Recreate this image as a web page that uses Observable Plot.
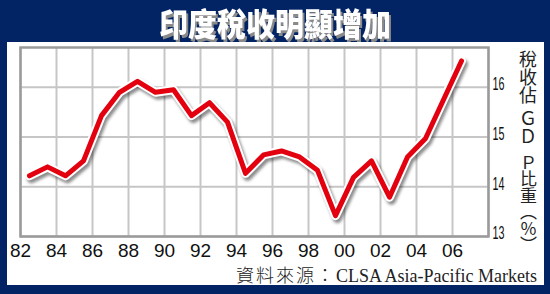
<!DOCTYPE html>
<html><head><meta charset="utf-8">
<script src="https://cdn.jsdelivr.net/npm/d3@7"></script>
<script src="https://cdn.jsdelivr.net/npm/@observablehq/plot@0.6"></script>
<style>
html,body{margin:0;padding:0;background:#fff;}
#wrap{position:relative;width:550px;height:294px;background:#032464;overflow:hidden;font-family:"Liberation Sans",Arial,sans-serif;}
#title{position:absolute;left:0;top:0;width:550px;height:42px;line-height:44px;text-align:center;color:#fff;font-family:"Noto Sans CJK TC";font-weight:900;font-size:29px;text-shadow:2px 2px 0 #8a8a8a;transform:scaleY(1.1);}
#panel{position:absolute;left:7px;top:42px;width:537px;height:243px;background:#fff;}
#chart{position:absolute;left:0;top:0;}
.ylab{position:absolute;writing-mode:vertical-rl;font-family:"Noto Sans CJK TC";color:#222;left:519px;width:18px;line-height:18px;white-space:nowrap;}
#source{position:absolute;right:13px;top:265px;line-height:18px;font-family:"Liberation Serif",serif;font-size:18px;color:#222;white-space:nowrap;}
.halo{filter:drop-shadow(2px 3px 1.5px rgba(0,0,0,0.45));}
</style></head>
<body>
<div id="wrap">
  <div id="title">印度稅收明顯增加</div>
  <div id="panel"></div>
  <div id="chart"></div>
  <div class="ylab" style="top:50px;font-size:18px;">稅收佔</div>
  <div class="ylab" style="top:109px;font-size:18px;">ＧＤ</div>
  <div class="ylab" style="top:154px;font-size:17px;letter-spacing:-0.5px;">Ｐ比重（％）</div>
  <div id="source"><span style="font-family:'Noto Sans CJK TC';font-weight:300;letter-spacing:2px;">資料來源：</span>CLSA Asia-Pacific Markets</div>
</div>
<script>
// Fiscal years (plotted at mid-year) and tax revenue as % of GDP
const years = [1982,1983,1984,1985,1986,1987,1988,1989,1990,1991,1992,1993,1994,1995,1996,1997,1998,1999,2000,2001,2002,2003,2004,2005,2006];
const taxRatio = [14.22,14.40,14.22,14.52,15.43,15.90,16.12,15.90,15.95,15.43,15.69,15.30,14.27,14.64,14.72,14.60,14.33,13.42,14.19,14.52,13.79,14.60,14.97,15.75,16.53];
const gridYears = [1982,1984,1986,1988,1990,1992,1994,1996,1998,2000,2002,2004,2006,2008];
const labelYears = [1982,1984,1986,1988,1990,1992,1994,1996,1998,2000,2002,2004,2006];
const yTicks = [13,14,15,16];

const data = years.map((yr,i) => ({year: yr + 0.5, value: taxRatio[i]}));

const chart = Plot.plot({
  width: 550, height: 294,
  marginLeft: 20, marginRight: 62, marginTop: 47, marginBottom: 58,
  x: {domain: [1982, 2008], axis: null, label: null},
  y: {domain: [13, 16.8], axis: null, label: null},
  style: {background: "transparent", overflow: "visible", fontFamily: "Liberation Sans, Arial, sans-serif"},
  marks: [
    Plot.gridX(gridYears, {stroke: "#c6c6c6", strokeOpacity: 1, strokeWidth: 2}),
    Plot.gridY(yTicks, {stroke: "#c6c6c6", strokeOpacity: 1, strokeWidth: 2}),
    Plot.frame({stroke: "#9a9a9a", strokeWidth: 2.5}),
    Plot.axisX(labelYears, {tickSize: 0, tickPadding: 7, fontSize: 19, fill: "#111", label: null,
      tickFormat: d => String(d % 100).padStart(2, "0")}),
    Plot.axisY(yTicks, {anchor: "right", tickSize: 0, tickPadding: 4, fontSize: 18, dy: -3, fill: "#111",
      label: null, textAnchor: "start", tickFormat: d => String(d)}),
    Plot.line(data, {x: "year", y: "value", stroke: "#fff", strokeWidth: 9, className: "halo"}),
    Plot.line(data, {x: "year", y: "value", stroke: "#e3000f", strokeWidth: 5})
  ]
});
document.getElementById("chart").appendChild(chart);
chart.querySelectorAll('g[aria-label="y-axis tick label"] text').forEach(t => {
  t.setAttribute("textLength", "12");
  t.setAttribute("lengthAdjust", "spacingAndGlyphs");
});
</script>
</body></html>
